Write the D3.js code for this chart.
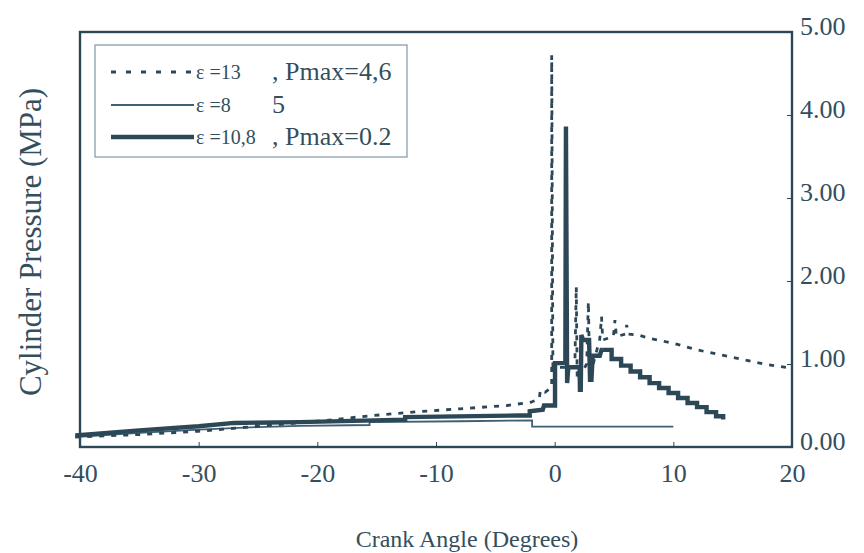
<!DOCTYPE html>
<html><head><meta charset="utf-8">
<script src="https://cdn.jsdelivr.net/npm/d3@7"></script>
<style>body{margin:0;background:#fff;}svg{display:block;}</style>
</head><body>
<svg id="c" width="864" height="553"></svg>
<script>
// ---- data ----
const xTicks = [-40, -30, -20, -10, 0, 10, 20];
const yTicks = [0, 1, 2, 3, 4, 5];
const legendLabels = ["ε =13", "ε =8", "ε =10,8"];
const legendNotes = [", Pmax=4,6", "5", ", Pmax=0.2"];

// ε = 13 (dashed)
const eps13 = [
  [-40.4,0.12],[-35,0.15],[-30,0.19],[-25,0.25],[-20,0.31],[-16,0.37],[-12,0.42],[-8,0.46],
  [-4,0.5],[-2,0.54],[-1.3,0.58],[-1.2,0.69],[-0.8,0.66],[-0.25,0.72],[-0.25,4.72],[-0.15,0.96],
  [1.7,0.96],[1.82,1.93],[1.9,0.8],[2.7,1.0],[2.84,1.75],[2.95,0.84],[3.8,1.3],[3.95,1.57],
  [4.05,1.29],[4.95,1.33],[5.08,1.53],[5.2,1.33],[5.95,1.36],[6.07,1.47],[6.2,1.36],[7,1.35],
  [8,1.31],[9,1.28],[10,1.25],[11,1.21],[12,1.17],[13,1.14],[14,1.11],[15,1.08],[16,1.05],
  [17,1.02],[18,0.99],[19,0.97],[20,0.95]
];
// ε = 8 (thin)
const eps8 = [
  [-40.4,0.12],[-35,0.17],[-30,0.21],[-25,0.24],[-21.5,0.255],[-15.6,0.265],[-15.6,0.3],
  [-8,0.31],[-1.9,0.32],[-1.9,0.245],[10,0.245]
];
// ε = 10,8 (thick) – rise and combustion spike
const eps108 = [
  [-40.4,0.14],[-35,0.2],[-30,0.25],[-27,0.29],[-21.5,0.3],[-12.6,0.33],[-12.6,0.36],[-3,0.38],
  [-2.1,0.38],[-2.1,0.43],[-1,0.45],[-0.9,0.5],[0.03,0.5],[0.03,1.01],[0.9,1.01],[0.95,3.86],
  [1.05,0.77],[1.15,0.96],[2.1,0.96],[2.13,0.69],[2.2,0.69],[2.25,1.35],[2.4,1.29],[2.9,1.29],
  [2.98,0.81],[3.1,0.81],[3.2,1.1],[3.8,1.1],[3.95,1.17],[4.0,1.17]
];
// ε = 10,8 (thick) – expansion staircase
const eps108Steps = [
  [4.0,1.17],[4.8,1.06],[5.6,0.98],[6.4,0.91],[7.2,0.84],[8.0,0.77],[8.8,0.71],[9.6,0.65],
  [10.4,0.59],[11.2,0.53],[12.0,0.48],[12.8,0.42],[13.6,0.37],[14.2,0.33]
];

// ---- drawing ----
const ink = "#2c4756", txt = "#334f5d";
const svg = d3.select("#c");
const L = 80, R = 792, T = 32, B = 447;
const x = d3.scaleLinear().domain([-40, 20]).range([L, R]);
const y = d3.scaleLinear().domain([0, 5]).range([B, T]);
const font = "'Liberation Serif','Times New Roman',serif";

const line = d3.line().x(d => x(d[0])).y(d => y(d[1]));
const stepLine = d3.line().x(d => x(d[0])).y(d => y(d[1])).curve(d3.curveStepAfter);

svg.append("path").datum(eps8).attr("d", line)
  .attr("fill","none").attr("stroke","#3e5f74").attr("stroke-width",1.8);
svg.append("path").datum(eps108).attr("d", line)
  .attr("fill","none").attr("stroke",ink).attr("stroke-width",4.4);
svg.append("path").datum(eps108Steps).attr("d", stepLine)
  .attr("fill","none").attr("stroke",ink).attr("stroke-width",4.4);
svg.append("path").datum(eps13).attr("d", line)
  .attr("fill","none").attr("stroke",ink).attr("stroke-width",2.8).attr("stroke-dasharray","5,7");

// frame
svg.append("rect").attr("x",L).attr("y",T).attr("width",R-L).attr("height",B-T)
  .attr("fill","none").attr("stroke",ink).attr("stroke-width",2.4);

// bottom axis (inward ticks)
const xAxis = d3.axisBottom(x).tickValues(xTicks).tickSize(-5).tickPadding(17).tickFormat(d3.format("d"));
const gx = svg.append("g").attr("transform",`translate(0,${B})`).call(xAxis);
gx.select(".domain").remove();
gx.selectAll("line").attr("stroke",ink).attr("stroke-width",1);
gx.selectAll("text").attr("fill",txt).attr("font-family",font).attr("font-size",26)
  .text(d => d < 0 ? "-" + Math.abs(d) : d);

// right axis (inward ticks)
const yAxis = d3.axisRight(y).tickValues(yTicks).tickSize(-5).tickPadding(8).tickFormat(d3.format(".2f"));
const gy = svg.append("g").attr("transform",`translate(${R},0)`).call(yAxis);
gy.select(".domain").remove();
gy.selectAll("line").attr("stroke",ink).attr("stroke-width",1);
gy.selectAll("text").attr("fill",txt).attr("font-family",font).attr("font-size",26).attr("dy","0.09em");

// axis titles
svg.append("text").attr("x",467).attr("y",547).attr("text-anchor","middle")
  .attr("fill",txt).attr("font-family",font).attr("font-size",24).text("Crank Angle (Degrees)");
svg.append("text").attr("transform","translate(41,242) rotate(-90)").attr("text-anchor","middle")
  .attr("fill",txt).attr("font-family",font).attr("font-size",31).text("Cylinder Pressure (MPa)");

// legend
const lg = svg.append("g");
lg.append("rect").attr("x",95).attr("y",45).attr("width",312).attr("height",112)
  .attr("fill","#fff").attr("stroke","#7d97a5").attr("stroke-width",1.2);
const rowsY = [72, 105, 137];
const styles = [
  {w:2.8, dash:"5,10", c:ink},
  {w:1.8, dash:null, c:"#3e5f74"},
  {w:4.4, dash:null, c:ink}
];
rowsY.forEach((ry, i) => {
  const s = styles[i];
  const ln = lg.append("line").attr("x1",111).attr("x2",194).attr("y1",ry).attr("y2",ry)
    .attr("stroke",s.c).attr("stroke-width",s.w);
  if (s.dash) ln.attr("stroke-dasharray",s.dash);
  lg.append("text").attr("x",196).attr("y",ry+7).attr("fill",txt).attr("font-family",font)
    .attr("font-size",20).text(legendLabels[i]);
  lg.append("text").attr("x",272).attr("y",ry+8).attr("fill",txt).attr("font-family",font)
    .attr("font-size",26).text(legendNotes[i]);
});
</script>
</body></html>
